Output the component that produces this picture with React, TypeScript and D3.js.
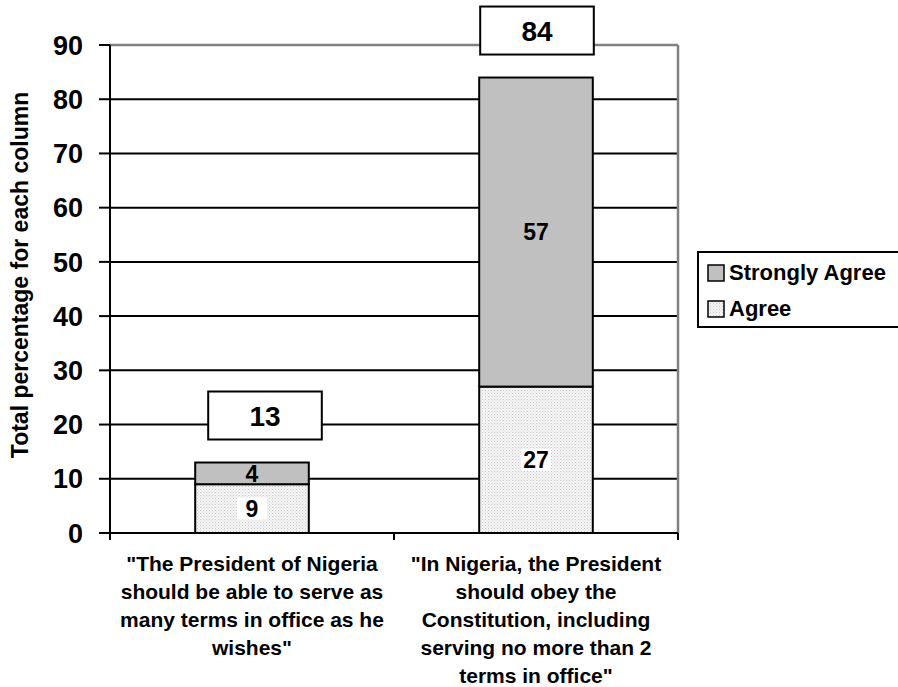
import React from 'react';
import * as d3 from 'd3';

// chart data
const categories = [
  ['"The President of Nigeria', 'should be able to serve as', 'many terms in office as he', 'wishes"'],
  ['"In Nigeria, the President', 'should obey the', 'Constitution, including', 'serving no more than 2', 'terms in office"'],
];
const agree = [9, 27];
const stronglyAgree = [4, 57];
const totals = [13, 84];
const yTicks = [0, 10, 20, 30, 40, 50, 60, 70, 80, 90];
const seriesNames = ['Strongly Agree', 'Agree'];

const W = 898;
const H = 687;
const font = '"Liberation Sans", Arial, sans-serif';

export default function App() {
  const margin = { top: 45, left: 110, right: 220, bottom: 154 };
  const plotW = W - margin.left - margin.right;
  const plotH = H - margin.top - margin.bottom;

  const x = d3.scaleBand<number>()
    .domain(d3.range(categories.length))
    .range([0, plotW])
    .paddingInner(0.6)
    .paddingOuter(0.3);
  const step = x.step();
  const y = d3.scaleLinear().domain([0, 90]).range([plotH, 0]);

  // small nudges of the total boxes, as in the source
  const boxDx = [13, 1];

  return (
    <svg width={W} height={H} style={{ position: 'absolute', left: 0, top: 0, fontFamily: font, fontWeight: 'bold' }}>
      <defs>
        <pattern id="dots" width="3" height="3" patternUnits="userSpaceOnUse">
          <rect width="3" height="3" fill="#f6f6f6" />
          <rect x="0" y="0" width="1" height="1" fill="#c4c4c4" />
          <rect x="1.5" y="1.5" width="1" height="1" fill="#d4d4d4" />
        </pattern>
      </defs>
      <rect width={W} height={H} fill="#fff" />
      <g transform={`translate(${margin.left},${margin.top})`}>
        {/* gridlines */}
        {yTicks.filter(t => t > 0 && t < 90).map(t => (
          <line key={t} x1={0} x2={plotW} y1={y(t)} y2={y(t)} stroke="#000" strokeWidth={2} />
        ))}
        {/* plot border top/right */}
        <line x1={0} x2={plotW} y1={y(90)} y2={y(90)} stroke="#808080" strokeWidth={2.5} />
        <line x1={plotW} x2={plotW} y1={y(90)} y2={plotH} stroke="#808080" strokeWidth={2.5} />

        {/* bars */}
        {categories.map((_, i) => {
          const bx = x(i)!;
          const bw = x.bandwidth();
          const cx = bx + bw / 2;
          const a = agree[i];
          const s = stronglyAgree[i];
          const aMid = y(a / 2);
          const sMid = y(a + s / 2);
          const tBox = y(totals[i]) - 47;
          return (
            <g key={i}>
              <rect x={bx} y={y(a)} width={bw} height={y(0) - y(a)} fill="url(#dots)" stroke="#000" strokeWidth={2} />
              <rect x={bx} y={y(a + s)} width={bw} height={y(a) - y(a + s)} fill="#c0c0c0" stroke="#000" strokeWidth={2} />
              <rect x={cx - 15} y={aMid - 11} width={30} height={22} fill="#fff" />
              <text x={cx} y={aMid} dy="0.36em" textAnchor="middle" fontSize={23}>{a}</text>
              <text x={cx} y={sMid} dy="0.36em" textAnchor="middle" fontSize={23}>{s}</text>
              <rect x={cx + boxDx[i] - bw / 2} y={tBox - 24} width={bw} height={48} fill="#fff" stroke="#000" strokeWidth={2} />
              <text x={cx + boxDx[i]} y={tBox} dy="0.36em" textAnchor="middle" fontSize={28}>{totals[i]}</text>
            </g>
          );
        })}

        {/* axes */}
        <line x1={0} x2={0} y1={0} y2={plotH} stroke="#000" strokeWidth={2} />
        <line x1={0} x2={plotW} y1={plotH} y2={plotH} stroke="#000" strokeWidth={2} />
        {yTicks.map(t => (
          <g key={t}>
            <line x1={-11} x2={0} y1={y(t)} y2={y(t)} stroke="#000" strokeWidth={2} />
            <text x={-27} y={y(t)} dy="0.36em" textAnchor="end" fontSize={27}>{t}</text>
          </g>
        ))}
        {d3.range(categories.length + 1).map(i => (
          <line key={i} x1={i * step} x2={i * step} y1={plotH} y2={plotH + 7} stroke="#000" strokeWidth={2} />
        ))}
        {categories.map((lines, i) => (
          <text key={i} x={x(i)! + x.bandwidth() / 2} y={plotH + 38} textAnchor="middle" fontSize={21}>
            {lines.map((l, j) => (
              <tspan key={j} x={x(i)! + x.bandwidth() / 2} dy={j === 0 ? 0 : 28}>{l}</tspan>
            ))}
          </text>
        ))}
      </g>

      {/* y axis title */}
      <text transform="translate(28,275) rotate(-90)" textAnchor="middle" fontSize={23}>
        Total percentage for each column
      </text>

      {/* legend */}
      <g transform="translate(698,252)">
        <rect x={0} y={0} width={210} height={75} fill="#fff" stroke="#000" strokeWidth={2} />
        {seriesNames.map((n, i) => (
          <g key={n} transform={`translate(0,${i * 36})`}>
            <rect x={10} y={13} width={16} height={16} fill={i === 0 ? '#c0c0c0' : 'url(#dots)'} stroke="#000" strokeWidth={1.5} />
            <text x={31} y={28} fontSize={22}>{n}</text>
          </g>
        ))}
      </g>
    </svg>
  );
}
